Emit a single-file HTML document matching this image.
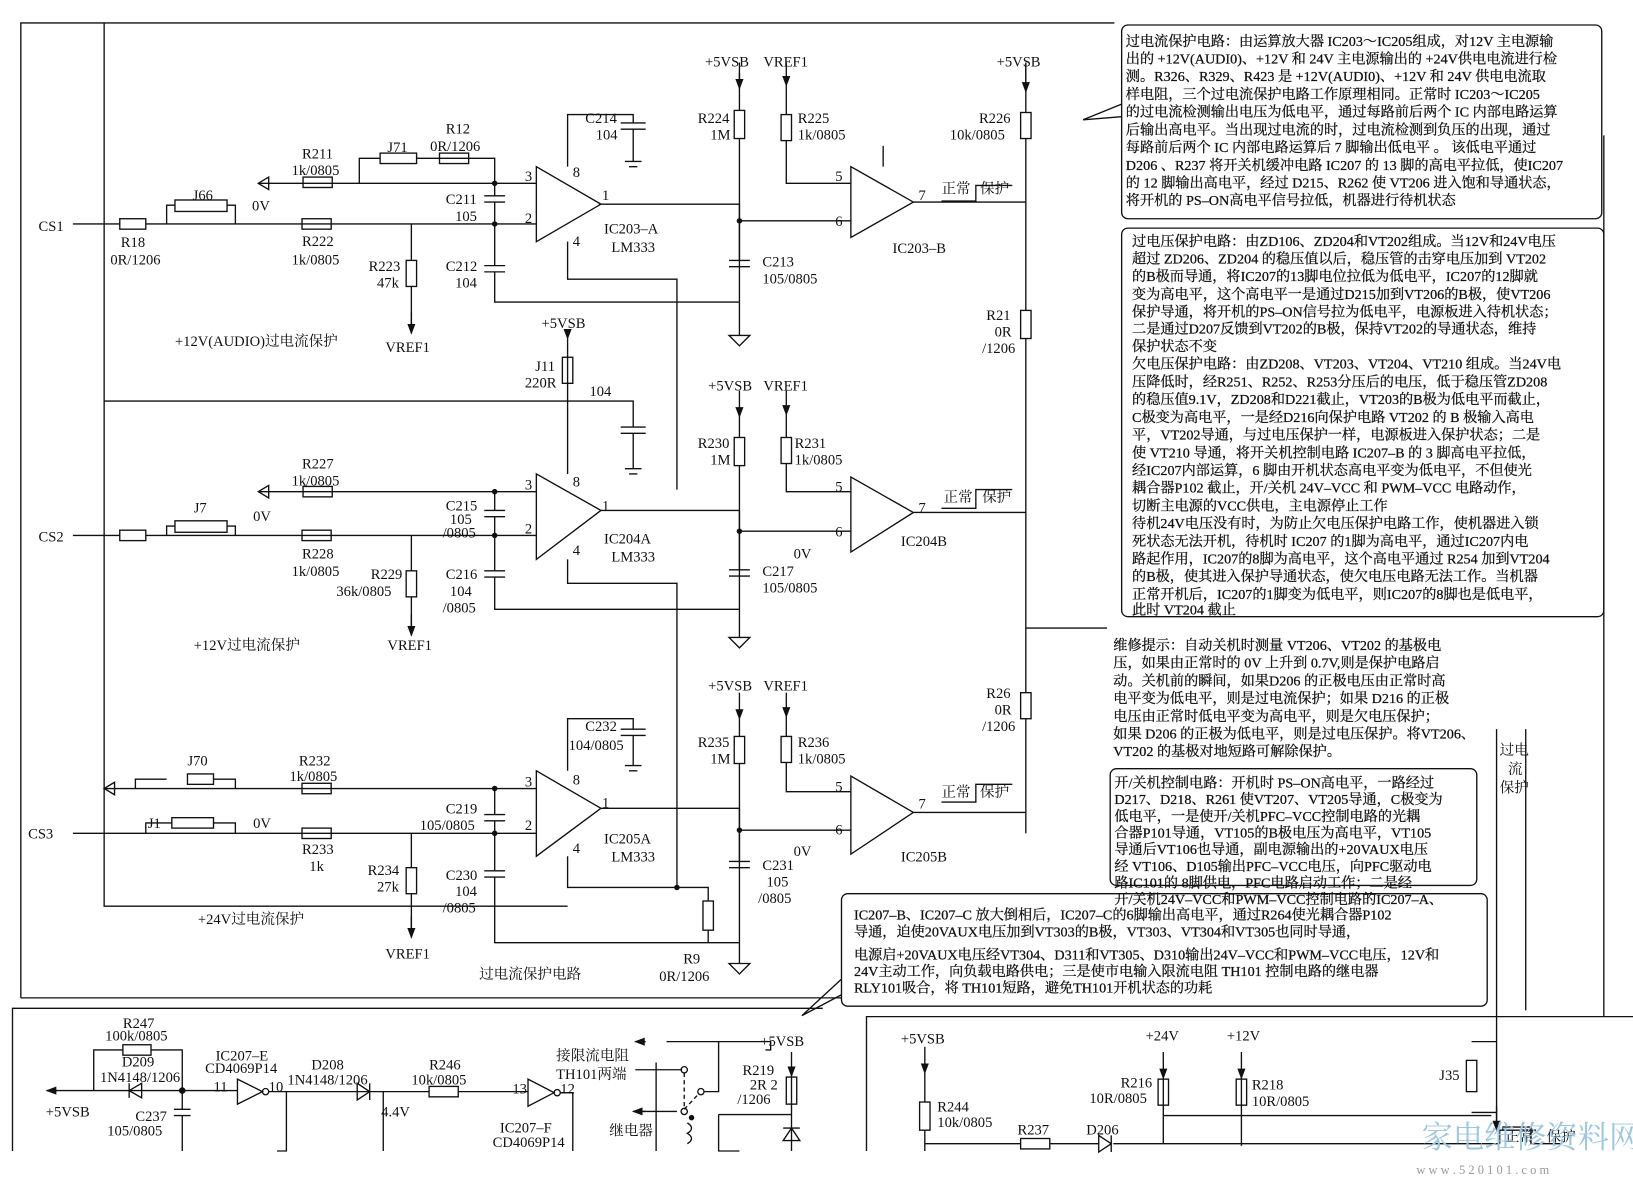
<!DOCTYPE html>
<html><head><meta charset="utf-8"><style>
html,body{margin:0;padding:0;background:#fff}
svg{display:block}
text{font-family:"Liberation Serif","Noto Serif CJK SC","Noto Sans CJK SC",serif;fill:#111}
.t{font-size:14px}
.b{font-size:13.6px;stroke:#111;stroke-width:0.25}
</style></head><body>
<svg width="1633" height="1201" viewBox="0 0 1568 1153" preserveAspectRatio="none" xmlns="http://www.w3.org/2000/svg">
<defs>
<marker id="ar" markerWidth="8" markerHeight="8" refX="7" refY="4" orient="auto"><path d="M0,1 L8,4 L0,7z" fill="#111"/></marker>
</defs>
<g stroke="#111" stroke-width="1.3" fill="none">
<path d="M20,958 L20,22 L1070,22"/>
<path d="M20,958 L808,958"/>
<path d="M12,1105 L12,968 L790,968"/>
<path d="M832,1105 L832,976 L1568,976"/>

<path d="M515,160 L515,232 L577,196 Z"/>
<path d="M817,160 L817,228 L877,194 Z"/>
<path d="M70,215 L115,215 M140,215 L515,215 M160,215 L160,197 L168,197 M218,197 L226,197 L226,215"/>
<rect x="115" y="210" width="25" height="10"/><rect x="168" y="192" width="50" height="11"/>
<path d="M248,176 L515,176"/>
<path d="M258,170 L248,176 L258,182 Z"/>
<rect x="291" y="170" width="28" height="10"/><rect x="290" y="210" width="28" height="10"/>
<path d="M345,176 L345,152 L365,152 M400,152 L415,152 L415,152 L475,152 L475,176"/>
<rect x="365" y="147" width="35" height="10"/><rect x="422" y="147" width="28" height="10"/>
<path d="M395,215 L395,250 M395,275 L395,320"/><rect x="390" y="250" width="10" height="25"/>
<path d="M395,300 L395,320" marker-end="url(#ar)"/>
<path d="M475,176 L475,188 M465,188 L485,188 M465,194 L485,194 M475,194 L475,215"/>
<path d="M475,215 L475,255 M465,255 L485,255 M465,261 L485,261 M475,261 L475,290 L710,290"/>
<path d="M575,196 L710,196 L710,322"/>
<path d="M545,160 L545,110 L608,110 L608,118 M596,118 L620,118 M596,124 L620,124 M608,124 L608,155 M600,155 L616,155 M604,160 L612,160"/>
<path d="M545,232 L545,268 L650,268 L650,470"/>
<path d="M700,322 L720,322 L710,332 Z"/>
<path d="M710,70 L710,106 M710,133 L710,250"/><rect x="705" y="106" width="10" height="27"/>
<path d="M710,60 L710,85" marker-end="url(#ar)"/>
<path d="M700,250 L720,250 M700,256 L720,256"/>
<path d="M755,60 L755,82" marker-end="url(#ar)"/><path d="M755,82 L755,110 M755,135 L755,176 L817,176"/><rect x="750" y="110" width="10" height="25"/>
<path d="M710,212 L817,212"/>
<path d="M877,194 L985,194"/><path d="M985,60 L985,108 M985,133 L985,298 M985,325 L985,665 M985,690 L985,800"/>
<path d="M985,62 L985,88" marker-end="url(#ar)"/>
<rect x="980" y="108" width="10" height="25"/><rect x="980" y="298" width="10" height="27"/><rect x="980" y="665" width="10" height="25"/>
<path d="M904,193 L937,193 L937,178 L972,178"/>
<path d="M848,140 L848,160"/>

<path d="M515,455 L515,537 L577,490 Z"/>
<path d="M817,458 L817,530 L877,492 Z"/>
<path d="M100,385 L545,385 L545,455"/>
<path d="M545,325 L545,340" marker-start="url(#ar)"/>
<path d="M545,340 L545,385"/><rect x="540" y="343" width="10" height="25"/>
<path d="M545,385 L608,385 L608,410 M596,410 L620,410 M596,416 L620,416 M608,416 L608,450 M600,450 L616,450 M604,455 L612,455"/>
<path d="M248,472 L515,472"/><path d="M258,466 L248,472 L258,478 Z"/>
<rect x="291" y="467" width="28" height="10"/>
<path d="M70,514 L115,514 M140,514 L515,514 M160,514 L160,505 L168,505 M218,505 L226,505 L226,514"/>
<rect x="115" y="509" width="25" height="10"/><rect x="168" y="500" width="50" height="11"/><rect x="290" y="509" width="28" height="10"/>
<path d="M395,514 L395,548 M395,573 L395,610"/><rect x="390" y="548" width="10" height="25"/>
<path d="M395,590 L395,610" marker-end="url(#ar)"/>
<path d="M475,472 L475,490 M465,490 L485,490 M465,496 L485,496 M475,496 L475,514 L475,548 M465,548 L485,548 M465,554 L485,554 M475,554 L475,585 L710,585"/>
<path d="M577,490 L710,490 L710,612"/><path d="M700,612 L720,612 L710,622 Z"/>
<path d="M545,537 L545,560 L650,560 L650,850"/>
<path d="M710,375 L710,400" marker-end="url(#ar)"/><path d="M710,400 L710,420 M710,447 L710,547"/><rect x="705" y="420" width="10" height="27"/>
<path d="M700,547 L720,547 M700,553 L720,553"/>
<path d="M755,375 L755,398" marker-end="url(#ar)"/><path d="M755,398 L755,420 M755,445 L755,472 L817,472"/><rect x="750" y="420" width="10" height="25"/>
<path d="M710,510 L817,510"/>
<path d="M877,492 L985,492"/>
<path d="M904,488 L937,488 L937,470 L972,470"/>
<path d="M100,22 L100,385 M100,385 L100,870 L545,870"/>
<path d="M985,603 L1063,603"/>

<path d="M515,740 L515,822 L577,776 Z"/>
<path d="M817,745 L817,820 L877,780 Z"/>
<path d="M545,740 L545,690 L608,690 L608,700 M596,700 L620,700 M596,706 L620,706 M608,706 L608,735 M600,735 L616,735 M604,740 L612,740"/>
<path d="M100,757 L515,757 M130,757 L130,748 L160,748 M205,748 L226,748 L226,757"/>
<path d="M110,751 L100,757 L110,763 Z"/>
<rect x="180" y="743" width="25" height="10"/><rect x="290" y="752" width="28" height="10"/>
<path d="M70,800 L515,800 M140,800 L140,790 L165,790 M205,790 L226,790 L226,800"/>
<rect x="165" y="785" width="40" height="10"/><rect x="290" y="795" width="28" height="10"/>
<path d="M395,800 L395,833 M395,858 L395,900"/><rect x="390" y="833" width="10" height="25"/>
<path d="M395,880 L395,900" marker-end="url(#ar)"/>
<path d="M475,757 L475,782 M465,782 L485,782 M465,788 L485,788 M475,788 L475,800 L475,836 M465,836 L485,836 M465,842 L485,842 M475,842 L475,905 L710,905"/>
<path d="M577,776 L710,776 L710,925"/><path d="M700,925 L720,925 L710,935 Z"/>
<path d="M545,822 L545,852 L680,852 L680,865 M680,893 L680,905"/><rect x="675" y="865" width="10" height="28"/>
<path d="M710,665 L710,690" marker-end="url(#ar)"/><path d="M710,690 L710,707 M710,733 L710,827"/><rect x="705" y="707" width="10" height="26"/>
<path d="M700,827 L720,827 M700,833 L720,833"/>
<path d="M755,665 L755,688" marker-end="url(#ar)"/><path d="M755,688 L755,707 M755,732 L755,760 L817,760"/><rect x="750" y="707" width="10" height="25"/>
<path d="M710,797 L817,797"/>
<path d="M877,780 L985,780"/>
<path d="M904,770 L937,770 L937,753 L972,753"/>
<circle cx="650" cy="852" r="2" fill="#111"/>
<circle cx="475" cy="176" r="2" fill="#111"/><circle cx="475" cy="215" r="2" fill="#111"/>
<circle cx="475" cy="472" r="2" fill="#111"/><circle cx="475" cy="514" r="2" fill="#111"/>
<circle cx="475" cy="757" r="2" fill="#111"/><circle cx="475" cy="800" r="2" fill="#111"/>
<circle cx="710" cy="212" r="2" fill="#111"/><circle cx="710" cy="510" r="2" fill="#111"/><circle cx="710" cy="797" r="2" fill="#111"/>

<path d="M1437,700 L1437,1085"/><path d="M1465,700 L1465,970"/>
<path d="M1540,130 L1540,976"/>
<path d="M1413,1000 L1437,1000 M1413,1068 L1437,1068"/><rect x="1408" y="1018" width="10" height="30"/>
<path d="M1437,1062 L1437,1085" marker-end="url(#ar)"/>
<path d="M1443,1085 L1443,1082 L1470,1082 L1470,1098 L1500,1098"/>

<path d="M45,1047 L175,1047 M90,1047 L90,1008 L118,1008 M145,1008 L175,1008 L175,1047"/>
<path d="M55,1047 L45,1047" marker-end="url(#ar)"/>
<rect x="118" y="1003" width="27" height="10"/>
<path d="M136,1040 L136,1054 L124,1047 Z M124,1040 L124,1054"/>
<path d="M175,1047 L175,1065 M167,1065 L183,1065 M167,1071 L183,1071 M175,1071 L175,1105"/>
<circle cx="175" cy="1047" r="2.5" fill="#111"/>
<path d="M175,1047 L228,1047 M228,1036 L228,1060 L252,1048 Z"/><circle cx="255" cy="1048" r="3"/>
<path d="M258,1048 L412,1048 M275,1048 L275,1105 L266,1105"/>
<path d="M343,1040 L343,1056 L355,1048 Z M355,1040 L355,1056"/>
<path d="M368,1048 L368,1105"/>
<rect x="412" y="1043" width="28" height="10"/>
<path d="M440,1048 L507,1048 M507,1036 L507,1062 L532,1049 Z"/><circle cx="535" cy="1049" r="3"/>
<path d="M538,1049 L550,1049 L550,1105"/>
<path d="M640,1000 L740,1000 L740,1008 L735,1008 M610,1027 L655,1027 M610,1067 L650,1067"/>
<path d="M620,1000 L610,1000" marker-end="url(#ar)"/><path d="M620,1067 L608,1067" marker-end="url(#ar)"/>
<circle cx="657" cy="1027" r="3"/><circle cx="657" cy="1067" r="3"/><circle cx="673" cy="1048" r="3"/>
<path d="M657,1065 L671,1050 M657,1030 L657,1062" stroke-dasharray="4,3"/>
<path d="M676,1048 L690,1048 L690,1000 M630,1020 L630,1105 M690,1070 L690,1105 L710,1105"/>
<path d="M660,1078 Q668,1083 660,1088 Q668,1093 660,1098"/><circle cx="664" cy="1073" r="2" fill="#111"/>
<path d="M760,1010 L760,1033" marker-end="url(#ar)"/><path d="M760,1033 L760,1060 M760,1060 L760,1105 M690,1070 L760,1070"/><rect x="755" y="1034" width="10" height="26"/>
<path d="M752,1095 L768,1095 L760,1083 Z M752,1083 L768,1083"/>

<path d="M888,1005 L888,1030" marker-end="url(#ar)"/><path d="M888,1030 L888,1058 M888,1085 L888,1105 M888,1098 L980,1098 M1008,1098 L1055,1098 M1069,1098 L1440,1098"/>
<rect x="883" y="1058" width="10" height="27"/><rect x="980" y="1093" width="28" height="10"/>
<path d="M1055,1090 L1055,1106 L1067,1098 Z M1067,1090 L1067,1106"/>
<path d="M1117,1010 L1117,1035" marker-end="url(#ar)"/><path d="M1117,1035 L1117,1098 M1117,1071 L1432,1071"/><rect x="1112" y="1036" width="10" height="25"/>
<path d="M1192,1010 L1192,1035" marker-end="url(#ar)"/><path d="M1192,1035 L1192,1100"/><rect x="1187" y="1036" width="10" height="25"/>
<path d="M1440,1098 L1440,1085 L1475,1085"/>

<rect x="1077" y="24" width="461" height="186" rx="6"/>
<rect x="1077" y="219" width="463" height="373" rx="6"/>
<path d="M1077,100 L1040,115 L1077,112"/>
<rect x="1066" y="738" width="352" height="112" rx="6"/>
<rect x="808" y="858" width="620" height="108" rx="6"/>
<path d="M808,940 L770,975 L808,955"/>
</g>

<g class="t">
<text x="677" y="64">+5VSB</text><text x="733" y="64">VREF1</text><text x="957" y="64">+5VSB</text>
<text x="562" y="118">C214</text><text x="572" y="134">104</text>
<text x="670" y="118">R224</text><text x="682" y="134">1M</text>
<text x="766" y="118">R225</text><text x="766" y="134">1k/0805</text>
<text x="940" y="118">R226</text><text x="912" y="134">10k/0805</text>
<text x="372" y="146">J71</text><text x="428" y="128">R12</text><text x="413" y="145">0R/1206</text>
<text x="290" y="152">R211</text><text x="280" y="168">1k/0805</text>
<text x="242" y="202">0V</text><text x="185" y="192">J66</text>
<text x="37" y="222">CS1</text><text x="116" y="237">R18</text><text x="106" y="254">0R/1206</text>
<text x="290" y="236">R222</text><text x="280" y="254">1k/0805</text>
<text x="354" y="260">R223</text><text x="362" y="276">47k</text>
<text x="428" y="196">C211</text><text x="437" y="212">105</text>
<text x="428" y="260">C212</text><text x="437" y="276">104</text>
<text x="504" y="174">3</text><text x="504" y="214">2</text><text x="550" y="170">8</text><text x="550" y="236">4</text><text x="578" y="192">1</text>
<text x="580" y="224">IC203–A</text><text x="587" y="242">LM333</text>
<text x="732" y="256">C213</text><text x="732" y="272">105/0805</text>
<text x="802" y="174">5</text><text x="802" y="217">6</text><text x="882" y="192">7</text>
<text x="904" y="186">正常</text><text x="941" y="186">保护</text>
<text x="857" y="243">IC203–B</text>
<text x="947" y="307">R21</text><text x="955" y="323">0R</text><text x="943" y="339">/1206</text>
<text x="168" y="332">+12V(AUDIO)过电流保护</text><text x="370" y="338">VREF1</text>
<text x="520" y="315">+5VSB</text><text x="514" y="356">J11</text><text x="504" y="372">220R</text><text x="566" y="380">104</text>
<text x="680" y="375">+5VSB</text><text x="733" y="375">VREF1</text>
<text x="670" y="430">R230</text><text x="682" y="446">1M</text><text x="763" y="430">R231</text><text x="763" y="446">1k/0805</text>
<text x="290" y="450">R227</text><text x="280" y="466">1k/0805</text><text x="243" y="500">0V</text><text x="186" y="492">J7</text>
<text x="37" y="520">CS2</text><text x="290" y="536">R228</text><text x="280" y="553">1k/0805</text>
<text x="356" y="556">R229</text><text x="323" y="572">36k/0805</text>
<text x="428" y="490">C215</text><text x="432" y="503">105</text><text x="425" y="516">/0805</text>
<text x="428" y="556">C216</text><text x="432" y="572">104</text><text x="425" y="588">/0805</text>
<text x="504" y="470">3</text><text x="504" y="512">2</text><text x="550" y="467">8</text><text x="550" y="533">4</text><text x="578" y="490">1</text>
<text x="580" y="522">IC204A</text><text x="587" y="539">LM333</text>
<text x="732" y="553">C217</text><text x="732" y="569">105/0805</text><text x="762" y="536">0V</text>
<text x="802" y="472">5</text><text x="802" y="515">6</text><text x="882" y="492">7</text>
<text x="906" y="482">正常</text><text x="943" y="482">保护</text><text x="865" y="524">IC204B</text>
<text x="186" y="624">+12V过电流保护</text><text x="372" y="624">VREF1</text>
<text x="680" y="663">+5VSB</text><text x="733" y="663">VREF1</text>
<text x="562" y="702">C232</text><text x="546" y="720">104/0805</text>
<text x="670" y="717">R235</text><text x="682" y="733">1M</text><text x="766" y="717">R236</text><text x="766" y="733">1k/0805</text>
<text x="947" y="670">R26</text><text x="955" y="686">0R</text><text x="943" y="702">/1206</text>
<text x="180" y="735">J70</text><text x="287" y="735">R232</text><text x="278" y="750">1k/0805</text>
<text x="142" y="795">J1</text><text x="243" y="795">0V</text><text x="27" y="805">CS3</text>
<text x="290" y="820">R233</text><text x="297" y="836">1k</text>
<text x="353" y="840">R234</text><text x="362" y="856">27k</text>
<text x="428" y="781">C219</text><text x="403" y="797">105/0805</text>
<text x="428" y="845">C230</text><text x="437" y="860">104</text><text x="425" y="876">/0805</text>
<text x="504" y="755">3</text><text x="504" y="797">2</text><text x="550" y="753">8</text><text x="550" y="819">4</text><text x="578" y="775">1</text>
<text x="580" y="810">IC205A</text><text x="587" y="827">LM333</text>
<text x="732" y="835">C231</text><text x="736" y="851">105</text><text x="728" y="867">/0805</text><text x="762" y="822">0V</text>
<text x="802" y="760">5</text><text x="802" y="801">6</text><text x="882" y="776">7</text>
<text x="904" y="765">正常</text><text x="941" y="765">保护</text><text x="865" y="827">IC205B</text>
<text x="190" y="887">+24V过电流保护</text><text x="370" y="920">VREF1</text>
<text x="460" y="940">过电流保护电路</text>
<text x="656" y="925">R9</text><text x="633" y="942">0R/1206</text>
<text x="1440" y="725">过电</text><text x="1448" y="743">流</text><text x="1440" y="761">保护</text>

<text x="118" y="987">R247</text><text x="101" y="999">100k/0805</text><text x="117" y="1024">D209</text><text x="96" y="1039">1N4148/1206</text>
<text x="44" y="1072">+5VSB</text><text x="130" y="1076">C237</text><text x="103" y="1090">105/0805</text>
<text x="207" y="1018">IC207–E</text><text x="197" y="1030">CD4069P14</text><text x="205" y="1048">11</text><text x="258" y="1048">10</text>
<text x="299" y="1027">D208</text><text x="276" y="1041">1N4148/1206</text><text x="366" y="1072">4.4V</text>
<text x="412" y="1027">R246</text><text x="395" y="1041">10k/0805</text>
<text x="492" y="1050">13</text><text x="538" y="1050">12</text>
<text x="480" y="1087">IC207–F</text><text x="473" y="1101">CD4069P14</text>
<text x="534" y="1018">接限流电阻</text><text x="534" y="1036">TH101两端</text><text x="585" y="1090">继电器</text>
<text x="730" y="1004">+5VSB</text><text x="713" y="1032">R219</text><text x="720" y="1046">2R 2</text><text x="708" y="1060">/1206</text>
<text x="865" y="1002">+5VSB</text><text x="1100" y="999">+24V</text><text x="1178" y="999">+12V</text>
<text x="1076" y="1044">R216</text><text x="1046" y="1059">10R/0805</text>
<text x="1202" y="1046">R218</text><text x="1202" y="1062">10R/0805</text>
<text x="900" y="1067">R244</text><text x="900" y="1082">10k/0805</text>
<text x="977" y="1089">R237</text><text x="1043" y="1089">D206</text><text x="1382" y="1037">J35</text>
<text x="1445" y="1096">正常</text><text x="1485" y="1096">保护</text>
</g>

<g class="b">
<text x="1081" y="44">过电流保护电路：由运算放大器 IC203～IC205组成，对12V 主电源输</text>
<text x="1081" y="61">出的 +12V(AUDI0)、+12V 和 24V 主电源输出的 +24V供电电流进行检</text>
<text x="1081" y="78">测。R326、R329、R423 是 +12V(AUDI0)、+12V 和 24V 供电电流取</text>
<text x="1081" y="95">样电阻，三个过电流保护电路工作原理相同。正常时 IC203～IC205</text>
<text x="1081" y="112">的过电流检测输出电压为低电平，通过每路前后两个 IC 内部电路运算</text>
<text x="1081" y="129">后输出高电平。当出现过电流的时，过电流检测到负压的出现，通过</text>
<text x="1081" y="146">每路前后两个 IC 内部电路运算后 7 脚输出低电平 。 该低电平通过</text>
<text x="1081" y="163">D206 、R237 将开关机缓冲电路 IC207 的 13 脚的高电平拉低，使IC207</text>
<text x="1081" y="180">的 12 脚输出高电平，经过 D215、R262 使 VT206 进入饱和导通状态，</text>
<text x="1081" y="197">将开机的 PS–ON高电平信号拉低，机器进行待机状态</text>

<text x="1087" y="236">过电压保护电路：由ZD106、ZD204和VT202组成。当12V和24V电压</text>
<text x="1087" y="253">超过 ZD206、ZD204 的稳压值以后，稳压管的击穿电压加到 VT202</text>
<text x="1087" y="270">的B极而导通，将IC207的13脚电位拉低为低电平，IC207的12脚就</text>
<text x="1087" y="287">变为高电平，这个高电平一是通过D215加到VT206的B极，使VT206</text>
<text x="1087" y="304">保护导通，将开机的PS–ON信号拉为低电平，电源板进入待机状态；</text>
<text x="1087" y="320">二是通过D207反馈到VT202的B极，保持VT202的导通状态，维持</text>
<text x="1087" y="337">保护状态不变</text>
<text x="1087" y="354">欠电压保护电路：由ZD208、VT203、VT204、VT210 组成。当24V电</text>
<text x="1087" y="371">压降低时，经R251、R252、R253分压后的电压，低于稳压管ZD208</text>
<text x="1087" y="388">的稳压值9.1V，ZD208和D221截止，VT203的B极为低电平而截止，</text>
<text x="1087" y="405">C极变为高电平，一是经D216向保护电路 VT202 的 B 极输入高电</text>
<text x="1087" y="422">平，VT202导通，与过电压保护一样，电源板进入保护状态；二是</text>
<text x="1087" y="439">使 VT210 导通，将开关机控制电路 IC207–B 的 3 脚高电平拉低，</text>
<text x="1087" y="456">经IC207内部运算，6 脚由开机状态高电平变为低电平，不但使光</text>
<text x="1087" y="473">耦合器P102 截止，开/关机 24V–VCC 和 PWM–VCC 电路动作，</text>
<text x="1087" y="490">切断主电源的VCC供电，主电源停止工作</text>
<text x="1087" y="507">待机24V电压没有时，为防止欠电压保护电路工作，使机器进入锁</text>
<text x="1087" y="524">死状态无法开机，待机时 IC207 的1脚为高电平，通过IC207内电</text>
<text x="1087" y="541">路起作用，IC207的8脚为高电平，这个高电平通过 R254 加到VT204</text>
<text x="1087" y="558">的B极，使其进入保护导通状态，使欠电压电路无法工作。当机器</text>
<text x="1087" y="575">正常开机后，IC207的1脚变为低电平，则IC207的8脚也是低电平，</text>
<text x="1087" y="590">此时 VT204 截止</text>

<text x="1069" y="624">维修提示：自动关机时测量 VT206、VT202 的基极电</text>
<text x="1069" y="641">压，如果由正常时的 0V 上升到 0.7V,则是保护电路启</text>
<text x="1069" y="658">动。关机前的瞬间，如果D206 的正极电压由正常时高</text>
<text x="1069" y="675">电平变为低电平，则是过电流保护；如果 D216 的正极</text>
<text x="1069" y="692">电压由正常时低电平变为高电平，则是欠电压保护；</text>
<text x="1069" y="709">如果 D206 的正极为低电平，则是过电压保护。将VT206、</text>
<text x="1069" y="726">VT202 的基极对地短路可解除保护。</text>

<text x="1070" y="756">开/关机控制电路：开机时 PS–ON高电平，一路经过</text>
<text x="1070" y="772">D217、D218、R261 使VT207、VT205导通，C极变为</text>
<text x="1070" y="788">低电平，一是使开/关机PFC–VCC控制电路的光耦</text>
<text x="1070" y="804">合器P101导通，VT105的B极电压为高电平，VT105</text>
<text x="1070" y="820">导通后VT106也导通，副电源输出的+20VAUX电压</text>
<text x="1070" y="836">经 VT106、D105输出PFC–VCC电压，向PFC驱动电</text>
<text x="1070" y="852">路IC101的 8脚供电，PFC电路启动工作；二是经</text>
<text x="1070" y="868">开/关机24V–VCC和PWM–VCC控制电路的IC207–A、</text>
<text x="820" y="883">IC207–B、IC207–C 放大倒相后，IC207–C的6脚输出高电平，通过R264使光耦合器P102</text>
<text x="820" y="899">导通，迫使20VAUX电压加到VT303的B极，VT303、VT304和VT305也同时导通，</text>
<text x="820" y="921">电源启+20VAUX电压经VT304、D311和VT305、D310输出24V–VCC和PWM–VCC电压，12V和</text>
<text x="820" y="937">24V主动工作，向负载电路供电；三是使市电输入限流电阻 TH101 控制电路的继电器</text>
<text x="820" y="953">RLY101吸合，将 TH101短路，避免TH101开机状态的功耗</text>
</g>
<text x="1365" y="1102" font-size="30" style="fill:#9cc7e0">家电维修资料网</text>
<text x="1360" y="1127" font-size="12" style="fill:#999">w w w . 5 2 0 1 0 1 . c o m</text>
</svg>
</body></html>
